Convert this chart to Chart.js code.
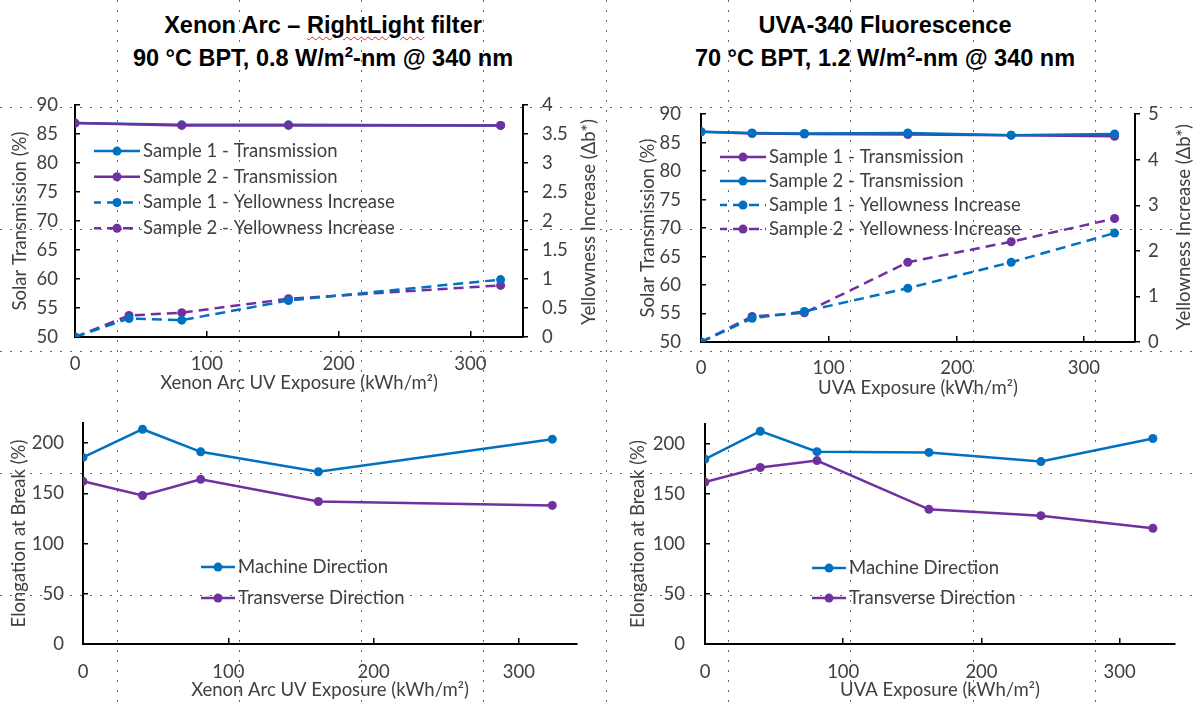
<!DOCTYPE html>
<html>
<head>
<meta charset="utf-8">
<script src="https://cdn.jsdelivr.net/npm/chart.js@4.4.1/dist/chart.umd.min.js"></script>
<style>
  body { margin: 0; background: #fff; }
  #page { position: relative; width: 1198px; height: 709px; overflow: hidden; font-family: Lato, sans-serif; }
  .vdot { position: absolute; top: 0; width: 1px; height: 709px;
    background: repeating-linear-gradient(to bottom, #666 0 2px, transparent 2px 10px); }
  .hdot { position: absolute; left: 0; height: 1px; width: 1198px;
    background: repeating-linear-gradient(to right, #666 0 2px, transparent 2px 10px); }
  canvas { position: absolute; }
  .title { position: absolute; width: 600px; text-align: center; color: #000;
    font: bold 23.5px "Liberation Sans", Arial, sans-serif; line-height: 28px; white-space: nowrap; }
  .title sup { font-size: 15px; line-height: 0; }
  .squiggle { text-decoration: underline wavy #e02020; text-decoration-thickness: 1px; text-underline-offset: 3px; }
  .ytitle2 { position: absolute; width: 280px; height: 22px; margin-left: -140px; margin-top: -11px;
    text-align: center; transform: rotate(-90deg); color: #404040; font: 18.5px Lato, sans-serif; line-height: 22px; white-space: nowrap; }
</style>
</head>
<body>
<div id="page">
  <div class="title" style="left:23px; top:11px;">Xenon Arc – <span class="squiggle">RightLight</span> filter</div>
  <div class="title" style="left:23px; top:44px;">90 °C BPT, 0.8 W/m<sup>2</sup>-nm @ 340 nm</div>
  <div class="title" style="left:585px; top:11px;">UVA-340 Fluorescence</div>
  <div class="title" style="left:585px; top:44px;">70 °C BPT, 1.2 W/m<sup>2</sup>-nm @ 340 nm</div>

  <canvas id="xenonTop" width="600" height="323" style="left:0; top:72px;"></canvas>
  <canvas id="uvaTop" width="598" height="323" style="left:600px; top:78px;"></canvas>
  <canvas id="xenonBottom" width="600" height="321" style="left:0; top:388px;"></canvas>
  <canvas id="uvaBottom" width="598" height="321" style="left:600px; top:388px;"></canvas>

  <div class="ytitle2" style="left:588px; top:222px;">Yellowness Increase (Δb*)</div>
  <div class="ytitle2" style="left:1183px; top:227px;">Yellowness Increase (Δb*)</div>
</div>

<script>
// exposure (kWh/m2)
const xenonExposure = [0, 41, 81, 162, 323];
const uvaExposure = [0, 40, 81, 162, 243, 324];

// Xenon arc - transmission (%) and yellowness (Δb*)
const xenonS1Trans = [86.9, null, 86.6, 86.6, 86.5];
const xenonS2Trans = [86.9, null, 86.5, 86.5, 86.5];
const xenonS1Yellow = [0, 0.32, 0.29, 0.63, 0.99];
const xenonS2Yellow = [0, 0.37, 0.42, 0.66, 0.89];

// UVA-340 - transmission (%) and yellowness (Δb*)
const uvaS1Trans = [86.9, 86.6, 86.5, 86.4, 86.3, 86.1];
const uvaS2Trans = [86.9, 86.7, 86.6, 86.7, 86.3, 86.5];
const uvaS1Yellow = [0, 0.52, 0.67, 1.18, 1.75, 2.39];
const uvaS2Yellow = [0, 0.56, 0.64, 1.75, 2.2, 2.71];

// elongation at break (%)
const xenonMD = [185.8, 213.9, 191.4, 171.6, 204];
const xenonTD = [162, 147.9, 164, 141.9, 138];
const uvaMD = [185, 212.9, 192.4, 191.7, 182.5, 205.6];
const uvaTD = [162, 176.6, 183.5, 134.7, 128.4, 115.8];

const BLUE = '#0070C0';
const PURPLE = '#7030A0';
const TEXT = '#404040';
const FONT_SIZE = 18.5;

// background dotted cell lines
const page = document.getElementById('page');
for (let k = 0; k < 9; k++) {
  const d = document.createElement('div');
  d.className = 'vdot';
  d.style.left = (116.5 + 122.3 * k) + 'px';
  page.insertBefore(d, page.firstChild);
}
for (let k = 0; k < 5; k++) {
  const d = document.createElement('div');
  d.className = 'hdot';
  d.style.top = (107 + 122 * k) + 'px';
  page.insertBefore(d, page.firstChild);
}

Chart.defaults.font.family = 'Lato';
Chart.defaults.font.size = FONT_SIZE;
Chart.defaults.color = TEXT;

function pts(xs, ys) {
  return xs.map((x, i) => ({ x: x, y: ys[i] })).filter(p => p.y !== null);
}

function series(label, color, xs, ys, axisId, dashed, order) {
  return {
    label: label,
    data: pts(xs, ys),
    yAxisID: axisId,
    order: order || 0,
    borderColor: color,
    backgroundColor: color,
    pointBackgroundColor: color,
    borderWidth: 2.5,
    borderDash: dashed ? [10, 6] : [],
    pointRadius: 4.5,
    pointBorderWidth: 0,
    tension: 0
  };
}

// legend drawn inside the plot, like the Excel one
const boxLegend = {
  id: 'boxLegend',
  afterDraw(chart, args, opts) {
    const { ctx, chartArea } = chart;
    ctx.save();
    ctx.font = FONT_SIZE + 'px Lato';
    ctx.textBaseline = 'middle';
    chart.data.datasets.forEach((ds, i) => {
      const x0 = chartArea.left + opts.x;
      const y = chartArea.top + opts.y + i * opts.rowH;
      ctx.strokeStyle = ds.borderColor;
      ctx.lineWidth = ds.borderWidth;
      ctx.setLineDash(ds.borderDash);
      ctx.lineDashOffset = ds.borderDash.length ? 3 : 0;
      ctx.beginPath();
      ctx.moveTo(x0, y);
      ctx.lineTo(x0 + opts.lineW, y);
      ctx.stroke();
      ctx.setLineDash([]);
      ctx.fillStyle = ds.borderColor;
      ctx.beginPath();
      ctx.arc(x0 + opts.lineW / 2, y, 4.5, 0, Math.PI * 2);
      ctx.fill();
      ctx.fillStyle = TEXT;
      ctx.fillText(ds.label, x0 + opts.lineW + 3, y);
    });
    ctx.restore();
  }
};

function xAxis(text, height, labelPad, titlePad) {
  return {
    type: 'linear', min: 0, max: 340,
    ticks: { stepSize: 100, includeBounds: false, padding: labelPad },
    grid: { drawOnChartArea: false, tickLength: -6, color: '#000', lineWidth: 1.5 },
    border: { color: '#000', width: 2 },
    title: { display: true, text: text, padding: { top: 0, bottom: titlePad } },
    afterFit: s => { s.height = height; }
  };
}

function yAxis(min, max, step, width, labelPad, title, titlePad) {
  return {
    position: 'left', min: min, max: max,
    ticks: { stepSize: step, includeBounds: false, padding: labelPad },
    grid: { drawOnChartArea: false, tickLength: -5, color: '#000', lineWidth: 1.5 },
    border: { color: '#000', width: 2 },
    title: { display: true, text: title, padding: { top: titlePad, bottom: 0 } },
    afterFit: s => { s.width = width; }
  };
}

function y2Axis(max, step, width, labelPad) {
  return {
    position: 'right', min: 0, max: max,
    ticks: { stepSize: step, padding: labelPad, callback: v => String(v) },
    grid: { drawOnChartArea: false, tickLength: 5, color: '#000', lineWidth: 1.5 },
    border: { color: '#000', width: 2 },
    afterFit: s => { s.width = width; }
  };
}

function baseOptions(padding, scales, legend) {
  return {
    responsive: false,
    animation: false,
    layout: { padding: padding },
    scales: scales,
    plugins: { legend: { display: false }, tooltip: { enabled: false }, boxLegend: legend }
  };
}

new Chart(document.getElementById('xenonTop'), {
  type: 'line',
  data: {
    datasets: [
      series('Sample 1 - Transmission', BLUE, xenonExposure, xenonS1Trans, 'y', false),
      series('Sample 2 - Transmission', PURPLE, xenonExposure, xenonS2Trans, 'y', false, -1),
      series('Sample 1 - Yellowness Increase', BLUE, xenonExposure, xenonS1Yellow, 'y2', true),
      series('Sample 2 - Yellowness Increase', PURPLE, xenonExposure, xenonS2Yellow, 'y2', true)
    ]
  },
  options: baseOptions({ top: 12, left: 0, right: 0, bottom: 0 }, {
    x: xAxis('Xenon Arc UV Exposure (kWh/m²)', 58, 21.9, 0.9),
    y: yAxis(50, 90, 5, 75, 22, 'Solar Transmission (%)', 8.9),
    y2: y2Axis(4, 0.5, 77, 14)
  }, { x: 19, y: 46, rowH: 25.7, lineW: 46 }),
  plugins: [boxLegend]
});

new Chart(document.getElementById('uvaTop'), {
  type: 'line',
  data: {
    datasets: [
      series('Sample 1 - Transmission', PURPLE, uvaExposure, uvaS1Trans, 'y', false),
      series('Sample 2 - Transmission', BLUE, uvaExposure, uvaS2Trans, 'y', false, -1),
      series('Sample 1 - Yellowness Increase', BLUE, uvaExposure, uvaS1Yellow, 'y2', true),
      series('Sample 2 - Yellowness Increase', PURPLE, uvaExposure, uvaS2Yellow, 'y2', true)
    ]
  },
  options: baseOptions({ top: 12, left: 0, right: 0, bottom: 0 }, {
    x: xAxis('UVA Exposure (kWh/m²)', 59, 20.9, 1.9),
    y: yAxis(50, 90, 5, 101, 25, 'Solar Transmission (%)', 36.9),
    y2: y2Axis(5, 1, 63, 8)
  }, { x: 19, y: 43, rowH: 24, lineW: 46 }),
  plugins: [boxLegend]
});

new Chart(document.getElementById('xenonBottom'), {
  type: 'line',
  data: {
    datasets: [
      series('Machine Direction', BLUE, xenonExposure, xenonMD, 'y', false),
      series('Transverse Direction', PURPLE, xenonExposure, xenonTD, 'y', false)
    ]
  },
  options: baseOptions({ top: 12, left: 0, right: 23, bottom: 0 }, {
    x: xAxis('Xenon Arc UV Exposure (kWh/m²)', 65, 22.9, 7.9),
    y: yAxis(0, 220, 50, 83, 24, 'Elongation at Break (%)', 8.4)
  }, { x: 118, y: 144, rowH: 31, lineW: 34 }),
  plugins: [boxLegend]
});

new Chart(document.getElementById('uvaBottom'), {
  type: 'line',
  data: {
    datasets: [
      series('Machine Direction', BLUE, uvaExposure, uvaMD, 'y', false),
      series('Transverse Direction', PURPLE, uvaExposure, uvaTD, 'y', false)
    ]
  },
  options: baseOptions({ top: 12, left: 0, right: 23, bottom: 0 }, {
    x: xAxis('UVA Exposure (kWh/m²)', 65, 22.9, 7.9),
    y: yAxis(0, 220, 50, 105, 25, 'Elongation at Break (%)', 26.9)
  }, { x: 107, y: 144, rowH: 30, lineW: 34 }),
  plugins: [boxLegend]
});
</script>
</body>
</html>
